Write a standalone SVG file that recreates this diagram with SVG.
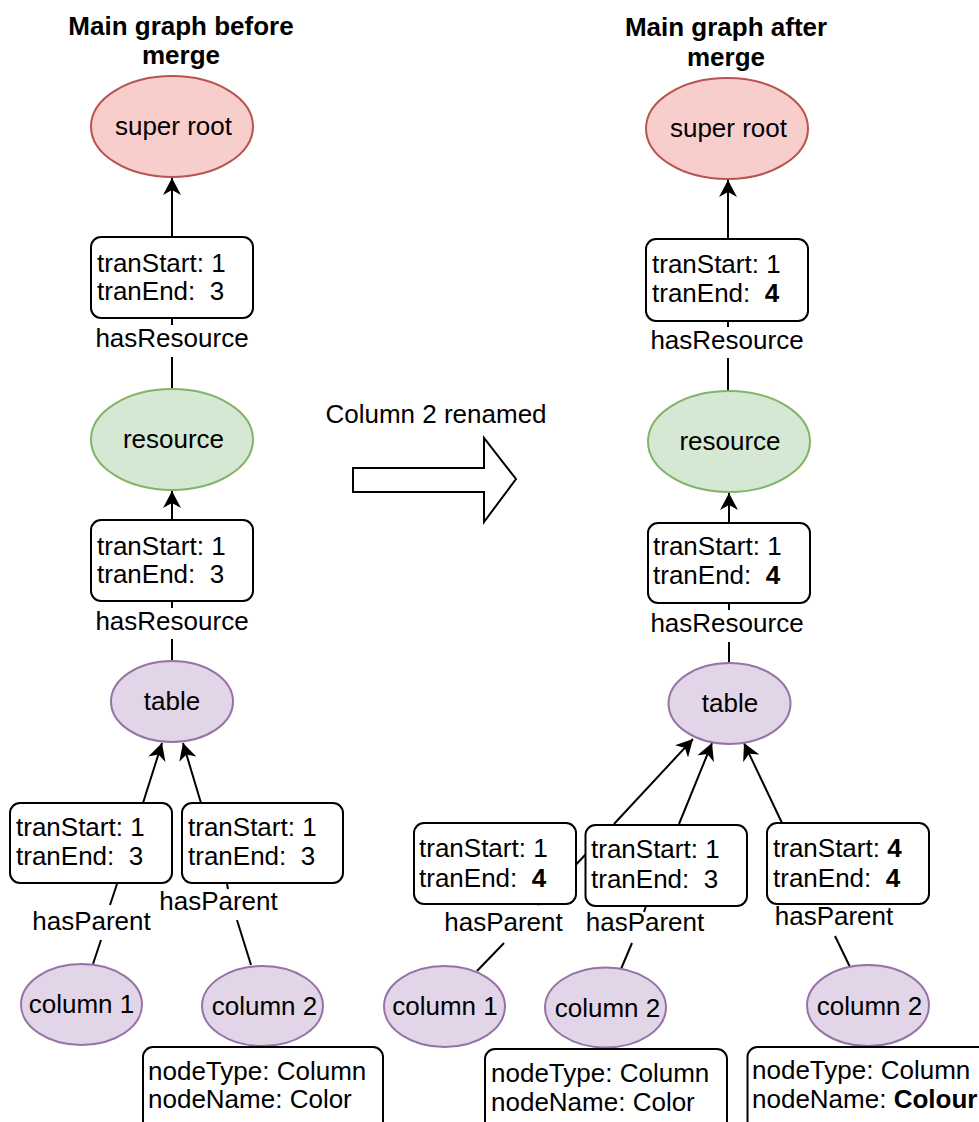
<svg xmlns="http://www.w3.org/2000/svg" width="979" height="1122" viewBox="0 0 979 1122">
<style>
text{font-family:"Liberation Sans",Arial,sans-serif;font-size:26px;fill:#000}
.t{font-weight:bold}
.c{text-anchor:middle}
.red{fill:#f8cecc;stroke:#b85450;stroke-width:2}
.grn{fill:#d5e8d4;stroke:#82b366;stroke-width:2}
.pur{fill:#e1d5e7;stroke:#9673a6;stroke-width:2}
.box{fill:#fff;stroke:#000;stroke-width:2}
.ln{fill:none;stroke:#000;stroke-width:2}
.arr{marker-end:url(#ah)}
</style>
<defs>
<marker id="ah" markerUnits="userSpaceOnUse" markerWidth="18" markerHeight="18" refX="17" refY="9" orient="auto" viewBox="0 0 18 18">
<path d="M0,0 L17,9 L0,18 L5,9 Z" fill="#000"/>
</marker>
</defs>
<rect width="979" height="1122" fill="#fff"/>

<g id="titles">
<text class="t c" x="181" y="35">Main graph before</text>
<text class="t c" x="181" y="64">merge</text>
<text class="t c" x="726" y="36">Main graph after</text>
<text class="t c" x="726" y="66">merge</text>
</g>

<g id="connectors">
<line class="ln arr" x1="172" y1="237" x2="172" y2="178"/>
<line class="ln" x1="172" y1="318" x2="172" y2="325"/>
<line class="ln" x1="172" y1="357" x2="172" y2="389"/>
<line class="ln arr" x1="172" y1="520" x2="172" y2="491"/>
<line class="ln" x1="172" y1="601" x2="172" y2="608"/>
<line class="ln" x1="172" y1="639" x2="172" y2="661"/>
<line class="ln arr" x1="143" y1="803" x2="162" y2="743"/>
<line class="ln" x1="93" y1="964" x2="101" y2="940"/>
<line class="ln" x1="110" y1="905" x2="117" y2="884"/>
<line class="ln arr" x1="201" y1="803" x2="183" y2="743"/>
<line class="ln" x1="251" y1="965" x2="237" y2="920"/>
<line class="ln" x1="228" y1="889" x2="227" y2="884"/>
<line class="ln arr" x1="728" y1="239" x2="728" y2="180"/>
<line class="ln" x1="728" y1="321" x2="728" y2="327"/>
<line class="ln" x1="728" y1="358" x2="728" y2="391"/>
<line class="ln arr" x1="729" y1="523" x2="729" y2="493"/>
<line class="ln" x1="729" y1="603" x2="729" y2="610"/>
<line class="ln" x1="729" y1="642" x2="729" y2="663"/>
<line class="ln" x1="477" y1="971" x2="504" y2="943"/>
<line class="ln" x1="538" y1="905" x2="586" y2="854"/>
<line class="ln arr" x1="614" y1="824" x2="693" y2="739"/>
<line class="ln" x1="621" y1="969" x2="632" y2="943"/>
<line class="ln" x1="644" y1="912" x2="646" y2="906"/>
<line class="ln arr" x1="679" y1="824" x2="712" y2="743"/>
<line class="ln" x1="850" y1="967" x2="835" y2="936"/>
<line class="ln arr" x1="782" y1="823" x2="744" y2="743"/>
<text class="c" x="172" y="347">hasResource</text>
<text class="c" x="172" y="630">hasResource</text>
<text class="c" x="91.5" y="930">hasParent</text>
<text class="c" x="218.5" y="910">hasParent</text>
<text class="c" x="727" y="349">hasResource</text>
<text class="c" x="727" y="632">hasResource</text>
<text class="c" x="503.5" y="931">hasParent</text>
<text class="c" x="645" y="931">hasParent</text>
<text class="c" x="834" y="925">hasParent</text>
</g>

<g id="L-superroot"><ellipse class="red" cx="172" cy="126.5" rx="81" ry="50.5"/><text class="c" x="173.5" y="135">super root</text></g>
<g id="L-edge1"><rect class="box" x="91" y="237" width="162" height="81" rx="10"/><text x="97" y="272">tranStart: 1</text><text x="97" y="300" xml:space="preserve">tranEnd:  3</text></g>
<g id="L-resource"><ellipse class="grn" cx="172" cy="439.5" rx="81" ry="50.5"/><text class="c" x="173.5" y="448">resource</text></g>
<g id="L-edge2"><rect class="box" x="91" y="520" width="162" height="81" rx="10"/><text x="97" y="555">tranStart: 1</text><text x="97" y="583" xml:space="preserve">tranEnd:  3</text></g>
<g id="L-table"><ellipse class="pur" cx="172" cy="701.5" rx="61" ry="40.5"/><text class="c" x="172" y="710">table</text></g>
<g id="L-edge3"><rect class="box" x="10" y="803" width="162" height="80" rx="10"/><text x="16" y="836">tranStart: 1</text><text x="16" y="865" xml:space="preserve">tranEnd:  3</text></g>
<g id="L-edge4"><rect class="box" x="182" y="803" width="161" height="80" rx="10"/><text x="188" y="836">tranStart: 1</text><text x="188" y="865" xml:space="preserve">tranEnd:  3</text></g>
<g id="L-column1"><ellipse class="pur" cx="81.5" cy="1004.5" rx="60.5" ry="40.5"/><text class="c" x="81.5" y="1013">column 1</text></g>
<g id="L-column2"><ellipse class="pur" cx="262.5" cy="1006" rx="60.5" ry="40"/><text class="c" x="264.5" y="1015">column 2</text></g>
<g id="L-props"><rect class="box" x="143" y="1047" width="240" height="90" rx="10"/><text x="148" y="1080">nodeType: Column</text><text x="148" y="1108">nodeName: Color</text></g>

<g id="rename-arrow">
<path d="M353,468 L484,468 L484,438 L516,479 L484,522 L484,492 L353,492 Z" fill="#fff" stroke="#000" stroke-width="2"/>
<text class="c" x="436" y="423">Column 2 renamed</text>
</g>

<g id="R-superroot"><ellipse class="red" cx="727" cy="128.5" rx="81" ry="50.5"/><text class="c" x="728.5" y="137">super root</text></g>
<g id="R-edge1"><rect class="box" x="646" y="239" width="162" height="82" rx="10"/><text x="652" y="273">tranStart: 1</text><text x="652" y="302" xml:space="preserve">tranEnd:  <tspan class="t">4</tspan></text></g>
<g id="R-resource"><ellipse class="grn" cx="729" cy="441.5" rx="81" ry="50.5"/><text class="c" x="730" y="450">resource</text></g>
<g id="R-edge2"><rect class="box" x="648" y="523" width="162" height="80" rx="10"/><text x="653" y="555">tranStart: 1</text><text x="653" y="584" xml:space="preserve">tranEnd:  <tspan class="t">4</tspan></text></g>
<g id="R-table"><ellipse class="pur" cx="729.5" cy="703.5" rx="61" ry="40.5"/><text class="c" x="730" y="712">table</text></g>
<g id="R-edge3"><rect class="box" x="414" y="823" width="162" height="81" rx="10"/><text x="419" y="857">tranStart: 1</text><text x="419" y="887" xml:space="preserve">tranEnd:  <tspan class="t">4</tspan></text></g>
<g id="R-edge4"><rect class="box" x="585.5" y="825" width="161.5" height="81" rx="10"/><text x="591" y="858">tranStart: 1</text><text x="591" y="888" xml:space="preserve">tranEnd:  3</text></g>
<g id="R-edge5"><rect class="box" x="767" y="823" width="162" height="81" rx="10"/><text x="773" y="857">tranStart: <tspan class="t">4</tspan></text><text x="773" y="887" xml:space="preserve">tranEnd:  <tspan class="t">4</tspan></text></g>
<g id="R-column1"><ellipse class="pur" cx="444.5" cy="1006.5" rx="60.5" ry="40.5"/><text class="c" x="445" y="1015">column 1</text></g>
<g id="R-column2a"><ellipse class="pur" cx="605.5" cy="1007.5" rx="60.5" ry="40"/><text class="c" x="607.5" y="1017">column 2</text></g>
<g id="R-column2b"><ellipse class="pur" cx="868" cy="1005.5" rx="61" ry="40.5"/><text class="c" x="869.5" y="1015">column 2</text></g>
<g id="R-props1"><rect class="box" x="485" y="1049" width="242" height="90" rx="10"/><text x="491" y="1082">nodeType: Column</text><text x="491" y="1111">nodeName: Color</text></g>
<g id="R-props2"><rect class="box" x="747.5" y="1047" width="260" height="90" rx="10"/><text x="752" y="1079">nodeType: Column</text><text x="752" y="1108">nodeName: <tspan class="t">Colour</tspan></text></g>
</svg>
